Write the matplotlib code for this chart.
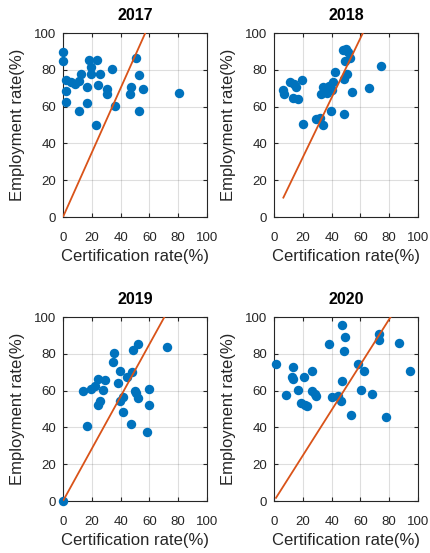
import matplotlib
matplotlib.use("Agg")
import matplotlib.pyplot as plt

plt.rcParams['font.family'] = ['Liberation Sans', 'DejaVu Sans']

years = ["2017", "2018", "2019", "2020"]

cert_2017 = [0, 0, 17.9, 23.5, 19.5, 19.5, 12.8, 34, 26, 51, 52.5, 2.3, 5.5, 8.3, 11,
             16.9, 24.5, 30.8, 30.8, 47, 46.5, 55.5, 80.5, 2.4, 2.4, 16.9, 36, 10.8, 52.7, 23.2]
emp_2017 = [89.5, 85, 85.5, 85.5, 81.5, 77.5, 77.5, 80.3, 77.5, 86.5, 77, 74.5, 73.5, 72.5, 74,
            70.5, 72, 69.6, 66.6, 70.5, 66.7, 69.7, 67.3, 68.5, 62.7, 62, 60.3, 57.8, 57.8, 50.2]

cert_2018 = [47.9, 50.2, 51.4, 49.6, 52.5, 74.6, 42.4, 50.9, 48.6, 41, 38.5, 33.8, 32.6, 36.9,
             40.4, 54.5, 66, 19.2, 10.9, 13.6, 15.5, 6.5, 7.2, 13.4, 16.5, 20.1, 29.2, 31.8, 34,
             39.4, 48.8]
emp_2018 = [90.6, 91.5, 89.5, 84.8, 86.5, 81.8, 78.7, 77.8, 75, 73.2, 71, 70.8, 66.8, 67.3,
            69, 68, 70, 74.2, 73.5, 72.5, 70.5, 69, 67, 64.8, 64, 50.3, 53, 54, 50.2,
            57.6, 55.8]

cert_2019 = [0, 52, 48.5, 72, 35.5, 34.6, 39.3, 47.8, 44.6, 24.2, 28.9, 38.1, 27.7, 13.9, 19.6,
             22, 49.7, 59.5, 52, 41.8, 39.4, 25.4, 24.5, 59.6, 41.4, 47.3, 16.7, 58.4, 51]
emp_2019 = [0, 85.5, 81.8, 83.5, 80.3, 75.3, 70.4, 69.9, 67.6, 66.5, 66, 64, 60.5, 59.8, 60.6,
            62.5, 60, 60.6, 56, 56.5, 54.5, 54.5, 52, 52, 48.6, 41.8, 40.8, 37.5, 58.5]

cert_2020 = [47.3, 49, 38.3, 48.5, 72.7, 73, 87, 1.4, 58.4, 62.4, 94.4, 13.2, 12.8, 13, 21,
             26.6, 46.9, 16.8, 8, 26.5, 28.3, 29.2, 40.4, 44.3, 46.8, 60.4, 68.1, 18.5, 21.4,
             23, 53.4, 77.9]
emp_2020 = [95.8, 89.4, 85.1, 81.6, 90.8, 87.6, 85.8, 74.2, 74.2, 70.8, 70.7, 73, 67.3, 66.2,
            67.2, 70.9, 65.2, 60.3, 57.6, 60, 58.2, 56.8, 56.6, 57, 54.4, 60.2, 58, 53.3, 52.1,
            51.8, 46.7, 45.4]

# slope of the fitted line (through origin) for each year
fit_slopes = [1.75, 1.62, 1.42, 1.235]

cert = [cert_2017, cert_2018, cert_2019, cert_2020]
emp = [emp_2017, emp_2018, emp_2019, emp_2020]

blue = "#0072BD"
orange = "#D95319"
dark = "#262626"

fig = plt.figure(figsize=(4.3, 5.53), dpi=100)
W, H = 430, 553
boxes = [(63, 33), (274, 33), (63, 317), (274, 317)]
aw, ah = 144, 184

for i, year in enumerate(years):
    left, top = boxes[i]
    ax = fig.add_axes([left / W, (H - top - ah) / H, aw / W, ah / H])
    x = cert[i]
    y = emp[i]
    lx = [min(x), max(x)]
    ly = [fit_slopes[i] * v for v in lx]
    ax.plot(x, y, 'o', color=blue, ms=6.8, mew=0, clip_on=False, zorder=3)
    ax.plot(lx, ly, '-', color=orange, lw=1.3, zorder=4)

    ax.set_xlim(0, 100)
    ax.set_ylim(0, 100)
    ax.set_xticks([0, 20, 40, 60, 80, 100])
    ax.set_yticks([0, 20, 40, 60, 80, 100])
    ax.grid(True, color=dark, alpha=0.15, lw=0.8)
    ax.set_axisbelow(True)
    ax.tick_params(direction='in', length=3, width=0.8, colors=dark,
                   labelsize=9.5, top=True, right=True)
    ax.tick_params(axis='x', pad=10.5)
    ax.tick_params(axis='y', pad=5)
    for s in ax.spines.values():
        s.set_color(dark)
        s.set_linewidth(0.8)
    ax.set_title(year, fontsize=11.5, fontweight='bold', pad=9)
    ax.set_xlabel("Certification rate(%)", fontsize=12, color=dark, labelpad=4)
    ax.set_ylabel("Employment rate(%)", fontsize=12, color=dark, labelpad=6.5)

fig.savefig("out.png", dpi=100)
